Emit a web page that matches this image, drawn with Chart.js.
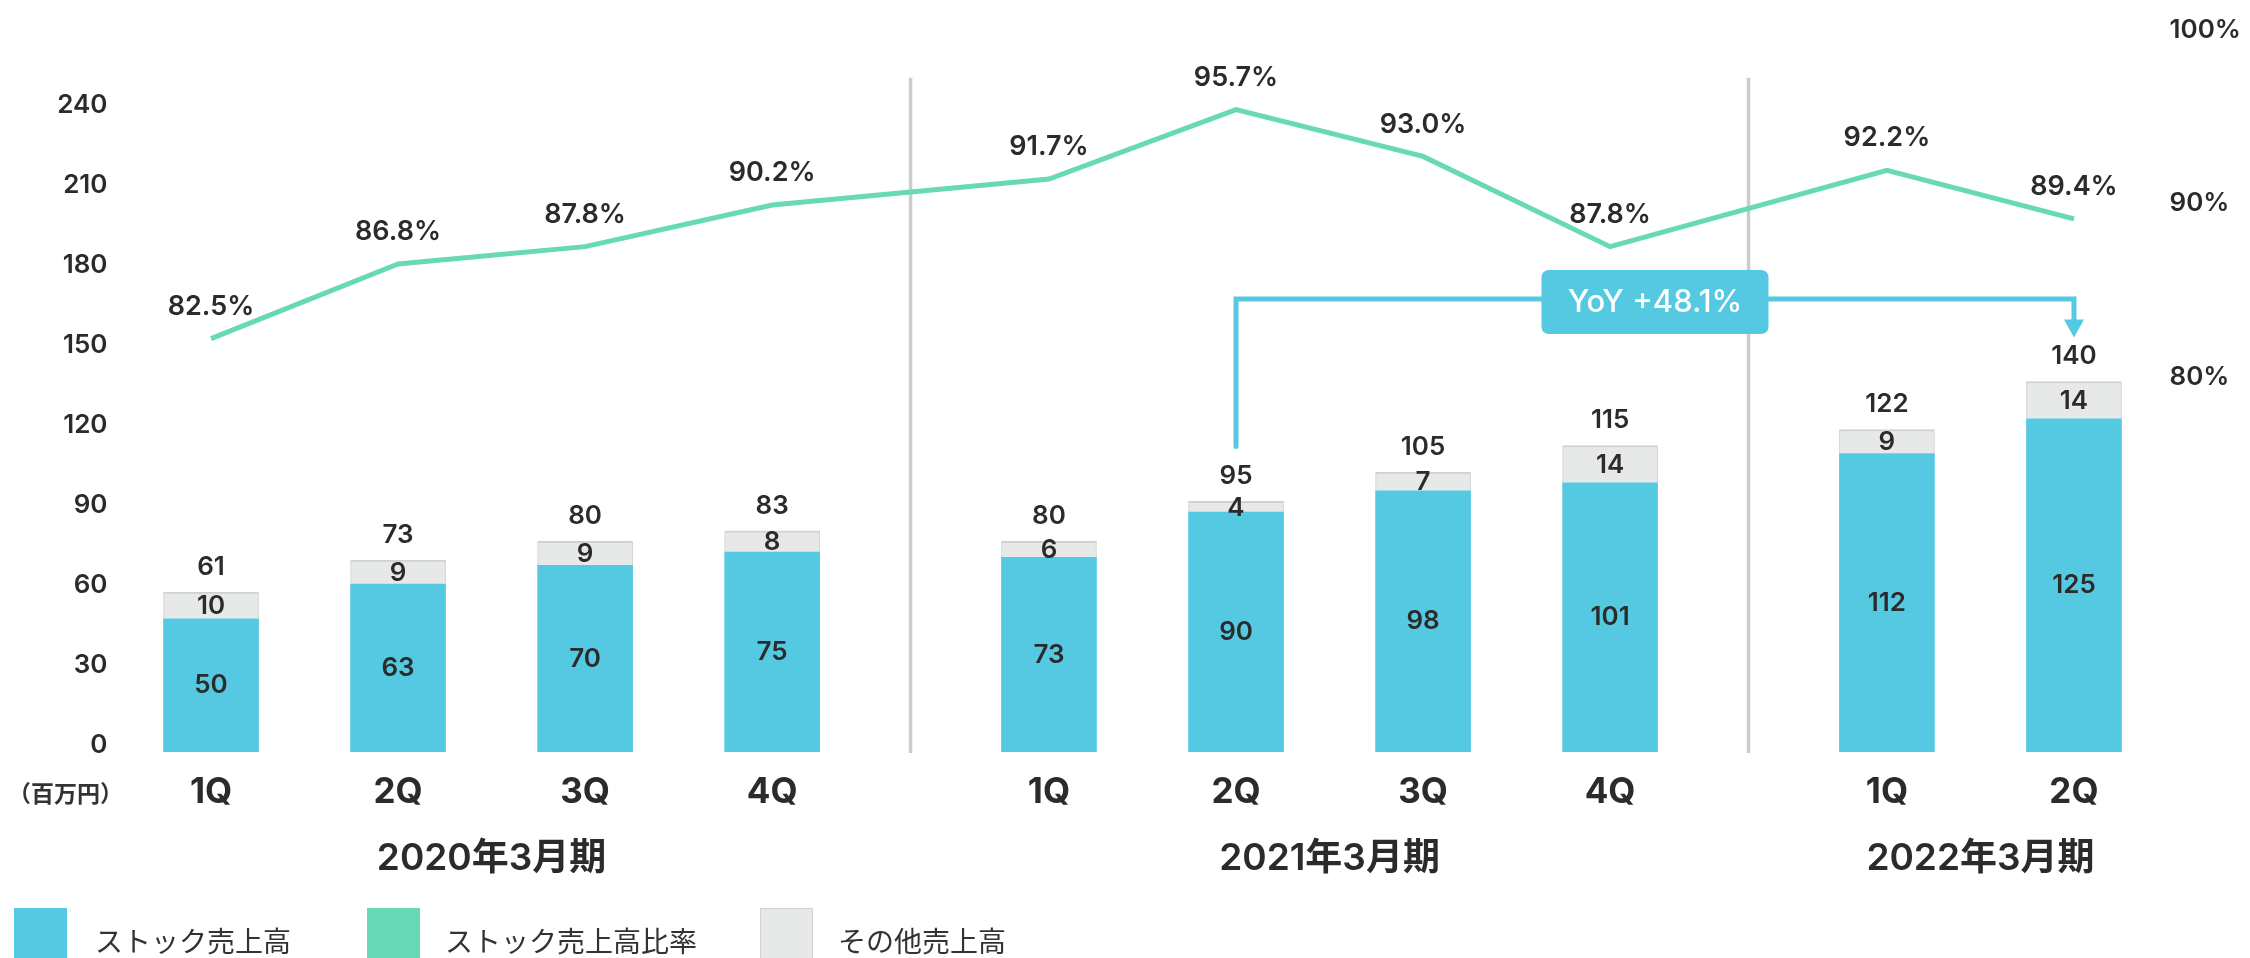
<!DOCTYPE html>
<html>
<head>
<meta charset="utf-8">
<script src="https://cdn.jsdelivr.net/npm/chart.js@4.4.0/dist/chart.umd.min.js"></script>
<style>
  html, body { margin:0; padding:0; background:#fff; width:2250px; height:958px; overflow:hidden; }
  #wrap { position:relative; width:2250px; height:958px; overflow:hidden; background:#fff; }
  #c { position:absolute; left:0; top:0; }
  .lg-box { position:absolute; top:908px; width:53px; height:53px; box-sizing:border-box; }
  .lg-text { position:absolute; top:918px; height:44px; line-height:44px; font-family:'Noto Sans CJK JP', sans-serif; font-size:28px; font-weight:400; color:#333; white-space:nowrap; }
</style>
</head>
<body>
<div id="wrap">
  <canvas id="c" width="2250" height="958"></canvas>
  <div id="legend"></div>
</div>
<script>
// ---------------- data ----------------
const quarters      = ['1Q','2Q','3Q','4Q','1Q','2Q','3Q','4Q','1Q','2Q'];
const fiscalYears   = ['2020年3月期','2021年3月期','2022年3月期'];
const yearOfQuarter = [0,0,0,0,1,1,1,1,2,2];
const stockSales    = [50,63,70,75,73,90,98,101,112,125];
const otherSales    = [10,9,9,8,6,4,7,14,9,14];
const totalSales    = [61,73,80,83,80,95,105,115,122,140];
const stockRatio    = [82.5,86.8,87.8,90.2,91.7,95.7,93.0,87.8,92.2,89.4];
const leftTicks     = [0,30,60,90,120,150,180,210,240];
const rightTicks    = [80,90,100];
const seriesNames   = ['ストック売上高','ストック売上高比率','その他売上高'];
const unitLabel     = '（百万円）';
const yoyFrom = 5, yoyTo = 9, yoyText = 'YoY +48.1%';

// ---------------- layout helpers ----------------
const GROUP_GAP = 0.48;
const xPos = quarters.map((q, i) => i + GROUP_GAP * yearOfQuarter[i]);
const groupCenters = fiscalYears.map((y, g) => {
  const first = xPos[yearOfQuarter.indexOf(g)];
  const last = xPos[yearOfQuarter.lastIndexOf(g)];
  return (first + last) / 2;
});
const dividerPos = fiscalYears.slice(1).map((y, g) => {
  const last = xPos[yearOfQuarter.lastIndexOf(g)];
  const first = xPos[yearOfQuarter.indexOf(g + 1)];
  return (last + first) / 2;
});

const BLUE = '#55C9E1', GREEN = '#67D9B4', GRAY = '#E7E8E8', GRAY_EDGE = '#D0D1D1';
const DIVIDER = '#CCCCCC', TEXT = '#2B2B2B';
const FONT = "Inter, 'Noto Sans CJK JP', sans-serif";

Chart.defaults.font.family = FONT;
Chart.defaults.color = TEXT;

const xMin = xPos[0] - 0.5, xMax = xPos[xPos.length - 1] + 0.5;

// ---------------- plugins ----------------
const decorPlugin = {
  id: 'decor',
  beforeDatasetsDraw(chart) {
    const {ctx, scales} = chart;
    const x = scales.x, yL = scales.yL;
    ctx.save();
    ctx.strokeStyle = DIVIDER;
    ctx.lineWidth = 3.5;
    dividerPos.forEach(p => {
      const px = x.getPixelForValue(p);
      ctx.beginPath();
      ctx.moveTo(px, yL.getPixelForValue(253));
      ctx.lineTo(px, yL.getPixelForValue(0) + 1);
      ctx.stroke();
    });
    ctx.restore();
  },
  afterDatasetsDraw(chart) {
    const {ctx, scales, chartArea} = chart;
    const yL = scales.yL;
    const stockMeta = chart.getDatasetMeta(0);
    const lineMeta = chart.getDatasetMeta(1);
    const otherMeta = chart.getDatasetMeta(2);
    ctx.save();
    ctx.fillStyle = TEXT;
    ctx.textAlign = 'center';
    ctx.textBaseline = 'middle';
    ctx.font = '600 26px ' + FONT;
    stockMeta.data.forEach((el, i) => {
      ctx.fillText(String(stockSales[i]), el.x, (el.y + el.base) / 2);
    });
    otherMeta.data.forEach((el, i) => {
      ctx.fillText(String(otherSales[i]), el.x, (el.y + el.base) / 2 + 1);
      ctx.fillText(String(totalSales[i]), el.x, el.y - 25);
    });
    ctx.font = '600 27px ' + FONT;
    lineMeta.data.forEach((el, i) => {
      ctx.fillText(stockRatio[i].toFixed(1) + '%', el.x, el.y - 32);
    });

    // unit label
    ctx.textAlign = 'left';
    ctx.font = "700 23px 'Noto Sans CJK JP', sans-serif";
    ctx.fillStyle = '#333';
    ctx.fillText(unitLabel, 8, chartArea.bottom + 41);

    // YoY connector
    const a = otherMeta.data[yoyFrom], b = otherMeta.data[yoyTo];
    const level = yL.getPixelForValue(170);
    const startY = a.y - 55;
    const tipY = b.y - 44;
    ctx.strokeStyle = BLUE;
    ctx.fillStyle = BLUE;
    ctx.lineWidth = 5;
    ctx.lineJoin = 'miter';
    ctx.lineCap = 'round';
    ctx.beginPath();
    ctx.moveTo(a.x, startY);
    ctx.lineTo(a.x, level);
    ctx.lineTo(b.x, level);
    ctx.lineTo(b.x, tipY - 16);
    ctx.stroke();
    ctx.beginPath();
    ctx.moveTo(b.x - 10, tipY - 18);
    ctx.lineTo(b.x + 10, tipY - 18);
    ctx.lineTo(b.x, tipY);
    ctx.closePath();
    ctx.fill();

    // YoY label box
    const cx = (a.x + b.x) / 2;
    const bw = 227, bh = 64, r = 8;
    const bx = cx - bw / 2, by = level + 3 - bh / 2;
    ctx.beginPath();
    ctx.moveTo(bx + r, by);
    ctx.lineTo(bx + bw - r, by);
    ctx.quadraticCurveTo(bx + bw, by, bx + bw, by + r);
    ctx.lineTo(bx + bw, by + bh - r);
    ctx.quadraticCurveTo(bx + bw, by + bh, bx + bw - r, by + bh);
    ctx.lineTo(bx + r, by + bh);
    ctx.quadraticCurveTo(bx, by + bh, bx, by + bh - r);
    ctx.lineTo(bx, by + r);
    ctx.quadraticCurveTo(bx, by, bx + r, by);
    ctx.closePath();
    ctx.fill();
    ctx.fillStyle = '#ffffff';
    ctx.textAlign = 'center';
    ctx.font = '500 31px ' + FONT;
    ctx.fillText(yoyText, cx, by + bh / 2 + 1);
    ctx.restore();
  }
};

const noPadX = h => s => { s.height = h; s.paddingLeft = 0; s.paddingRight = 0; };
const noPadY = w => s => { s.width = w; s.paddingTop = 0; s.paddingBottom = 0; };

// ---------------- chart ----------------
const chart = new Chart(document.getElementById('c'), {
  type: 'bar',
  data: {
    datasets: [
      {
        type: 'bar',
        label: seriesNames[0],
        data: stockSales.map((v, i) => ({x: xPos[i], y: v})),
        backgroundColor: BLUE,
        borderWidth: 0,
        barThickness: 95,
        yAxisID: 'yL',
        stack: 'sales',
        order: 2
      },
      {
        type: 'line',
        label: seriesNames[1],
        data: stockRatio.map((v, i) => ({x: xPos[i], y: v})),
        borderColor: GREEN,
        backgroundColor: GREEN,
        borderWidth: 5,
        pointRadius: 0,
        tension: 0,
        yAxisID: 'yR',
        order: 0
      },
      {
        type: 'bar',
        label: seriesNames[2],
        data: otherSales.map((v, i) => ({x: xPos[i], y: v})),
        backgroundColor: GRAY,
        borderColor: GRAY_EDGE,
        borderWidth: {top: 2, left: 1, right: 1, bottom: 0},
        borderSkipped: 'bottom',
        barThickness: 95,
        yAxisID: 'yL',
        stack: 'sales',
        order: 2
      }
    ]
  },
  options: {
    responsive: false,
    animation: false,
    events: [],
    layout: { padding: { top: 35, bottom: 56, left: 0, right: 0 } },
    plugins: { legend: { display: false }, tooltip: { enabled: false } },
    scales: {
      x: {
        type: 'linear',
        position: 'bottom',
        weight: 0,
        offset: false,
        bounds: 'data',
        min: xMin, max: xMax,
        stacked: true,
        grid: { display: false, drawTicks: false, offset: false },
        border: { display: false },
        afterBuildTicks: s => { s.ticks = xPos.map(v => ({value: v})); },
        afterFit: noPadX(80),
        ticks: {
          autoSkip: false, maxRotation: 0, padding: 23,
          font: { size: 35, weight: '700', lineHeight: 1 },
          color: TEXT,
          callback: (v, i) => quarters[i]
        }
      },
      x2: {
        type: 'linear',
        position: 'bottom',
        weight: 1,
        offset: false,
        bounds: 'data',
        min: xMin, max: xMax,
        grid: { display: false, drawTicks: false, offset: false },
        border: { display: false },
        afterBuildTicks: s => { s.ticks = groupCenters.map(v => ({value: v})); },
        afterFit: noPadX(70),
        ticks: {
          autoSkip: false, maxRotation: 0, padding: 8,
          font: { size: 37, weight: '600', lineHeight: 1 },
          color: TEXT,
          callback: (v, i) => fiscalYears[i]
        }
      },
      yL: {
        type: 'linear',
        position: 'left',
        min: 0, max: 269,
        stacked: true,
        grid: { display: false, drawTicks: false },
        border: { display: false },
        afterBuildTicks: s => { s.ticks = leftTicks.map(v => ({value: v})); },
        afterFit: noPadY(117.5),
        ticks: {
          padding: 10, labelOffset: -7,
          font: { size: 26, weight: '600' },
          color: TEXT
        }
      },
      yR: {
        type: 'linear',
        position: 'right',
        min: 58.67, max: 100,
        grid: { display: false, drawTicks: false },
        border: { display: false },
        afterBuildTicks: s => { s.ticks = rightTicks.map(v => ({value: v})); },
        afterFit: noPadY(82.5),
        ticks: {
          padding: 2, labelOffset: -5,
          font: { size: 26, weight: '600' },
          color: TEXT,
          callback: v => v + '%'
        }
      }
    }
  },
  plugins: [decorPlugin]
});

// ---------------- HTML legend built from the datasets ----------------
const legendBoxLeft = [14, 367, 760];
const legendTextLeft = [95, 445, 838];
const legendEl = document.getElementById('legend');
chart.data.datasets.forEach((ds, i) => {
  const box = document.createElement('div');
  box.className = 'lg-box';
  box.style.left = legendBoxLeft[i] + 'px';
  box.style.background = ds.type === 'line' ? ds.borderColor : ds.backgroundColor;
  if (ds.backgroundColor === GRAY) box.style.border = '1.5px solid ' + GRAY_EDGE;
  const txt = document.createElement('div');
  txt.className = 'lg-text';
  txt.style.left = legendTextLeft[i] + 'px';
  txt.textContent = ds.label;
  legendEl.appendChild(box);
  legendEl.appendChild(txt);
});
</script>
</body>
</html>
